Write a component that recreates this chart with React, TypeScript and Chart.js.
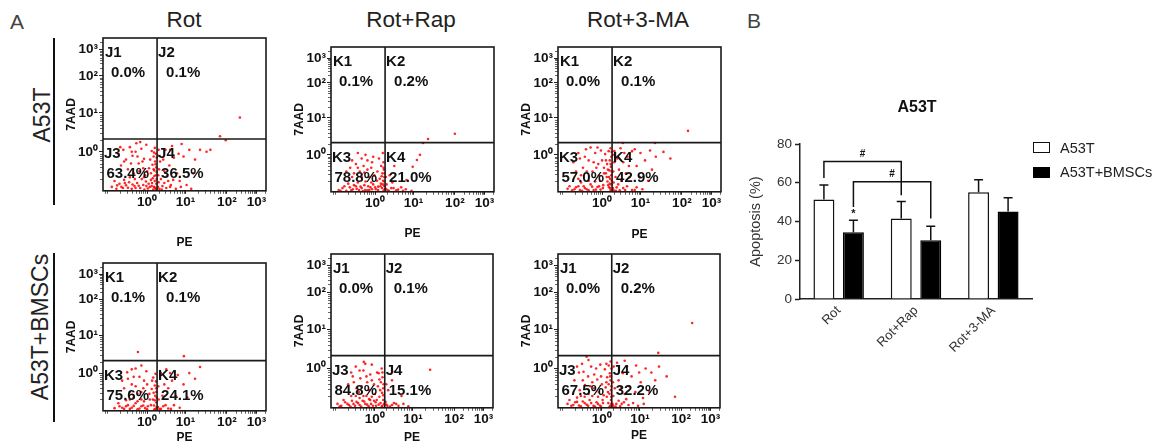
import React, { useEffect, useRef } from 'react';
import { Chart, registerables } from 'chart.js';

Chart.register(...registerables);

const FONT = '"Liberation Sans", Arial, Helvetica, sans-serif';

// ---------------- Panel A : flow cytometry ----------------
const COLUMN_TITLES = ['Rot', 'Rot+Rap', 'Rot+3-MA'];
const ROW_TITLES = ['A53T', 'A53T+BMSCs'];
const DECADE_LABELS = ['10⁰', '10¹', '10²', '10³'];
// display positions of decades (logicle-like axes)
const PE_DECADES = [0, 1, 2.08, 2.85];
const AAD_DECADES = [0, 1, 1.95, 2.62];
const PE_RANGE = [-1.15, 3.1];
const AAD_RANGE = [-1, 2.92];
const PE_GATE = 0.26;
const AAD_GATE = 0.33;

const ROT_A53T_GATES = ['J1', 'J2', 'J3', 'J4'];
const ROT_A53T_PCT = [0.0, 0.1, 63.4, 36.5];
const ROT_A53T_POINTS = [
  [0.22, -0.95], [0.18, -0.9], [0.24, -0.82], [0.12, -0.88], [0.2, -0.75], [0.15, -0.68], [0.23, -0.6], [0.1, -0.55],
  [0.19, -0.48], [0.24, -0.4], [0.14, -0.33], [0.21, -0.25], [0.08, -0.2], [0.17, -0.12], [0.23, -0.05], [0.12, 0.02],
  [0.2, 0.1], [0.05, -0.42], [0.1, -0.72],
  [-0.92, -0.9], [-0.8, -0.95], [-0.72, -0.82], [-0.63, -0.93], [-0.55, -0.86], [-0.47, -0.78], [-0.4, -0.95],
  [-0.33, -0.88], [-0.26, -0.8], [-0.18, -0.93], [-0.1, -0.85], [-0.03, -0.76], [0.02, -0.94], [-0.6, -0.72],
  [-0.14, -0.7], [-0.85, -0.75],
  [-0.75, -0.05], [-0.62, 0.05], [-0.55, -0.2], [-0.45, 0.12], [-0.38, -0.1], [-0.3, 0.0], [-0.22, -0.3], [-0.15, 0.08],
  [-0.08, -0.18], [-0.02, 0.18], [-0.5, -0.45], [-0.35, -0.55], [-0.2, -0.5], [-0.68, -0.35], [-0.1, -0.42],
  [-0.28, 0.22], [-0.42, -0.3], [-0.05, -0.6],
  [0.32, -0.95], [0.4, -0.88], [0.5, -0.93], [0.62, -0.85], [0.75, -0.95], [0.88, -0.9], [1.03, -0.85], [0.36, -0.7],
  [0.45, -0.5], [0.58, -0.35], [0.7, -0.15], [0.82, -0.05], [0.95, -0.12], [1.1, 0.05], [1.25, -0.2], [1.38, 0.05],
  [1.55, 0.0], [1.65, 0.05], [0.34, -0.25], [0.48, 0.05], [0.65, 0.15], [0.9, 0.2], [1.2, -0.55], [0.55, -0.75],
  [1.9, 0.4], [2.05, 0.3], [2.42, 0.88],
  [0.25, -0.98], [0.21, -0.92], [0.16, -0.97], [0.13, -0.8], [0.25, -0.7], [0.19, -0.62], [0.25, -0.52], [0.17, -0.45],
  [0.22, -0.32], [0.25, -0.15], [0.18, -0.02], [0.07, -0.9], [0.04, -0.82], [-0.02, -0.88], [-0.07, -0.97],
  [-0.22, -0.87], [-0.3, -0.93], [-0.38, -0.84], [-0.5, -0.92], [-0.58, -0.8], [-0.67, -0.9], [-0.78, -0.86],
  [-0.45, -0.65], [-0.32, -0.7], [-0.08, -0.65], [0.0, -0.5], [-0.12, -0.25], [-0.25, -0.12], [-0.4, 0.0],
  [-0.6, -0.25], [-0.7, 0.12], [-0.18, 0.25], [0.28, -0.9], [0.3, -0.78], [0.29, -0.6], [0.31, -0.45], [0.29, -0.1],
  [0.38, -0.97], [0.45, -0.8], [0.52, -0.62], [0.6, -0.9], [0.68, -0.72], [0.78, -0.55], [0.42, -0.2], [0.85, -0.75],
  [1.15, -0.95], [0.3, 0.05], [0.6, 0.05],
];

const ROT_RAP_A53T_GATES = ['K1', 'K2', 'K3', 'K4'];
const ROT_RAP_A53T_PCT = [0.1, 0.2, 78.8, 21.0];
const ROT_RAP_A53T_POINTS = [
  [0.22, -0.97], [0.18, -0.9], [0.24, -0.84], [0.15, -0.78], [0.21, -0.7], [0.24, -0.6], [0.12, -0.65], [0.19, -0.5],
  [0.23, -0.4], [0.16, -0.3], [0.22, -0.2], [0.1, -0.1], [0.2, 0.05], [0.06, -0.45],
  [-0.95, -0.95], [-0.85, -0.9], [-0.75, -0.97], [-0.66, -0.88], [-0.58, -0.93], [-0.5, -0.85], [-0.42, -0.95],
  [-0.35, -0.9], [-0.28, -0.82], [-0.2, -0.96], [-0.12, -0.88], [-0.05, -0.8], [0.02, -0.93], [0.08, -0.86],
  [-0.45, -0.75], [-0.25, -0.72], [-0.7, -0.78], [-0.15, -0.95], [-0.32, -0.98],
  [-0.65, -0.35], [-0.5, -0.25], [-0.4, -0.45], [-0.3, -0.3], [-0.2, -0.15], [-0.1, -0.35], [-0.02, -0.55],
  [-0.55, -0.5], [-0.35, -0.1], [-0.15, -0.6], [-0.45, 0.05], [-0.25, 0.0], [-0.05, -0.05], [-0.6, -0.15],
  [0.32, -0.95], [0.42, -0.9], [0.55, -0.96], [0.68, -0.88], [0.8, -0.93], [0.95, -0.97], [0.82, -0.68],
  [0.98, -0.32], [1.09, -0.14], [1.17, 0.0], [1.25, 0.32], [1.38, 0.43], [2.08, 0.57], [0.38, -0.55], [0.5, -0.3],
  [0.25, -0.93], [0.2, -0.8], [0.24, -0.72], [0.17, -0.58], [0.25, -0.5], [0.22, -0.35], [0.14, -0.85], [0.08, -0.95],
  [0.0, -0.88], [-0.08, -0.93], [-0.18, -0.85], [-0.26, -0.95], [-0.38, -0.86], [-0.48, -0.92], [-0.55, -0.82],
  [-0.62, -0.96], [-0.8, -0.85], [-0.9, -0.97], [-0.1, -0.75], [0.05, -0.7], [-0.35, -0.6], [-0.6, -0.6],
  [-0.75, -0.45], [-0.45, -0.35], [-0.28, -0.48], [-0.08, -0.2], [-0.2, -0.4], [0.28, -0.92], [0.3, -0.8],
  [0.36, -0.97], [0.48, -0.9], [0.6, -0.94], [0.28, -0.6], [0.73, -0.97], [0.45, -0.75],
];

const ROT_3MA_A53T_GATES = ['K1', 'K2', 'K3', 'K4'];
const ROT_3MA_A53T_PCT = [0.0, 0.1, 57.0, 42.9];
const ROT_3MA_A53T_POINTS = [
  [0.22, -0.95], [0.18, -0.88], [0.24, -0.8], [0.14, -0.72], [0.21, -0.65], [0.24, -0.55], [0.1, -0.5], [0.19, -0.42],
  [0.23, -0.32], [0.13, -0.25], [0.2, -0.15], [0.24, -0.05], [0.08, 0.02], [0.17, 0.1], [0.22, 0.18], [0.05, -0.35],
  [0.12, -0.6], [0.2, -0.78],
  [-0.9, -0.92], [-0.78, -0.96], [-0.68, -0.88], [-0.58, -0.95], [-0.48, -0.85], [-0.4, -0.93], [-0.3, -0.8],
  [-0.22, -0.95], [-0.12, -0.87], [-0.04, -0.94], [0.03, -0.82], [-0.55, -0.75], [-0.18, -0.72],
  [-0.75, -0.2], [-0.62, 0.05], [-0.5, -0.35], [-0.42, 0.15], [-0.35, -0.15], [-0.25, -0.45], [-0.18, 0.05],
  [-0.1, -0.25], [-0.03, 0.12], [-0.55, -0.55], [-0.3, 0.2], [-0.08, -0.55], [-0.45, -0.05], [-0.15, -0.35],
  [0.0, -0.15], [-0.68, -0.45],
  [0.3, -0.95], [0.38, -0.88], [0.46, -0.96], [0.55, -0.9], [0.65, -0.85], [0.78, -0.95], [0.9, -0.88], [1.05, -0.93],
  [0.35, -0.6], [0.44, -0.4], [0.55, -0.2], [0.66, -0.05], [0.78, 0.1], [0.9, -0.3], [1.0, 0.05], [1.12, -0.15],
  [1.25, 0.12], [1.4, -0.05], [1.6, 0.08], [1.78, -0.1], [0.32, 0.1], [0.48, 0.18], [0.72, -0.6], [1.2, -0.7],
  [0.54, 0.32], [1.38, 0.32], [2.24, 0.65],
  [0.25, -0.98], [0.21, -0.9], [0.16, -0.82], [0.25, -0.7], [0.18, -0.6], [0.25, -0.45], [0.15, -0.4], [0.22, -0.25],
  [0.25, 0.08], [0.1, -0.15], [0.02, -0.9], [-0.08, -0.85], [-0.16, -0.94], [-0.26, -0.86], [-0.35, -0.96],
  [-0.45, -0.9], [-0.52, -0.97], [-0.62, -0.85], [-0.72, -0.93], [-0.85, -0.85], [-0.05, -0.7], [-0.35, -0.7],
  [-0.62, -0.65], [-0.4, -0.45], [-0.22, -0.2], [-0.12, 0.2], [-0.58, -0.1], [0.05, -0.5], [0.28, -0.9], [0.3, -0.75],
  [0.29, -0.45], [0.32, -0.2], [0.28, 0.0], [0.36, -0.97], [0.42, -0.8], [0.5, -0.7], [0.6, -0.95], [0.62, -0.5],
  [0.7, -0.3], [0.85, -0.95], [0.98, -0.6], [0.4, -0.1], [0.85, 0.15], [1.3, -0.4], [0.58, 0.05],
];

const ROT_BMSC_GATES = ['K1', 'K2', 'K3', 'K4'];
const ROT_BMSC_PCT = [0.1, 0.1, 75.6, 24.1];
const ROT_BMSC_POINTS = [
  [0.22, -0.95], [0.18, -0.86], [0.24, -0.78], [0.15, -0.7], [0.21, -0.6], [0.24, -0.5], [0.12, -0.42], [0.2, -0.33],
  [0.23, -0.22], [0.16, -0.12], [0.22, -0.02], [0.1, -0.85], [0.06, -0.55],
  [-0.85, -0.93], [-0.72, -0.88], [-0.6, -0.95], [-0.5, -0.85], [-0.4, -0.92], [-0.3, -0.8], [-0.2, -0.94],
  [-0.1, -0.86], [0.0, -0.96], [-0.55, -0.72], [-0.15, -0.7], [-0.35, -0.65],
  [-0.65, -0.2], [-0.52, 0.02], [-0.4, -0.3], [-0.3, 0.12], [-0.2, -0.1], [-0.1, -0.4], [-0.02, 0.05], [-0.45, -0.5],
  [-0.25, -0.55], [-0.08, -0.2], [-0.6, -0.4], [-0.35, -0.1], [-0.15, 0.2], [-0.24, 0.56],
  [0.32, -0.95], [0.42, -0.88], [0.55, -0.94], [0.7, -0.85], [0.85, -0.92], [0.4, -0.6], [0.55, -0.4], [0.65, -0.2],
  [0.8, -0.05], [0.95, -0.3], [1.1, 0.0], [1.25, -0.15], [1.38, 0.16], [0.36, 0.0], [0.5, 0.1], [1.05, -0.65],
  [0.96, 0.45],
  [0.25, -0.9], [0.19, -0.96], [0.25, -0.65], [0.17, -0.52], [0.24, -0.4], [0.13, -0.2], [0.2, -0.72], [0.07, -0.7],
  [0.02, -0.88], [-0.05, -0.93], [-0.15, -0.88], [-0.25, -0.96], [-0.35, -0.87], [-0.45, -0.95], [-0.55, -0.88],
  [-0.65, -0.92], [-0.75, -0.8], [-0.08, -0.75], [-0.25, -0.75], [-0.45, -0.7], [-0.5, -0.15], [-0.3, -0.35],
  [-0.15, -0.5], [0.0, -0.3], [-0.4, 0.1], [0.28, -0.9], [0.3, -0.7], [0.29, -0.35], [0.36, -0.95], [0.48, -0.85],
  [0.62, -0.95], [0.45, -0.3], [0.75, -0.6], [0.6, 0.0],
];

const ROT_RAP_BMSC_GATES = ['J1', 'J2', 'J3', 'J4'];
const ROT_RAP_BMSC_PCT = [0.0, 0.1, 84.8, 15.1];
const ROT_RAP_BMSC_POINTS = [
  [0.2, -0.95], [0.15, -0.88], [0.22, -0.8], [0.12, -0.72], [0.19, -0.62], [0.22, -0.5], [0.08, -0.45], [0.16, -0.35],
  [0.2, -0.22], [0.1, -0.12], [0.18, 0.0], [0.05, -0.8],
  [-0.98, -0.9], [-0.88, -0.95], [-0.78, -0.86], [-0.68, -0.93], [-0.6, -0.82], [-0.52, -0.95], [-0.44, -0.88],
  [-0.36, -0.97], [-0.28, -0.84], [-0.2, -0.92], [-0.12, -0.8], [-0.05, -0.95], [0.02, -0.86], [-0.4, -0.75],
  [-0.22, -0.7], [-0.62, -0.7], [-0.08, -0.72],
  [-0.7, -0.4], [-0.58, -0.2], [-0.48, -0.5], [-0.38, -0.25], [-0.3, -0.05], [-0.2, -0.35], [-0.12, -0.15],
  [-0.02, -0.4], [-0.5, 0.05], [-0.25, 0.12], [-0.08, 0.1], [-0.42, -0.6], [-0.29, 0.17], [-0.15, -0.55], [-0.62, -0.1],
  [0.3, -0.92], [0.4, -0.97], [0.5, -0.88], [0.62, -0.95], [0.75, -0.9], [0.88, -0.96], [0.35, -0.55], [0.52, -0.08],
  [0.45, -0.3], [0.7, -0.7], [1.45, -0.03],
  [0.24, -0.9], [0.18, -0.97], [0.22, -0.68], [0.14, -0.55], [0.23, -0.4], [0.12, -0.28], [0.2, -0.1], [0.1, -0.92],
  [0.03, -0.95], [-0.02, -0.82], [-0.1, -0.9], [-0.16, -0.96], [-0.25, -0.9], [-0.32, -0.82], [-0.4, -0.93],
  [-0.48, -0.85], [-0.56, -0.9], [-0.64, -0.97], [-0.72, -0.9], [-0.82, -0.8], [-0.92, -0.96], [-0.3, -0.7],
  [-0.5, -0.7], [-0.15, -0.78], [0.0, -0.65], [-0.35, -0.45], [-0.55, -0.35], [-0.22, -0.2], [-0.08, -0.3],
  [-0.4, -0.05], [0.06, -0.1], [0.28, -0.85], [0.33, -0.95], [0.45, -0.93], [0.56, -0.9], [0.3, -0.4],
];

const ROT_3MA_BMSC_GATES = ['J1', 'J2', 'J3', 'J4'];
const ROT_3MA_BMSC_PCT = [0.0, 0.2, 67.5, 32.2];
const ROT_3MA_BMSC_POINTS = [
  [0.22, -0.95], [0.17, -0.88], [0.24, -0.8], [0.13, -0.72], [0.2, -0.64], [0.24, -0.55], [0.1, -0.48], [0.18, -0.4],
  [0.23, -0.3], [0.14, -0.22], [0.21, -0.12], [0.08, -0.02], [0.18, 0.08], [0.23, 0.18], [0.05, -0.68],
  [-0.9, -0.9], [-0.8, -0.95], [-0.7, -0.86], [-0.6, -0.94], [-0.5, -0.84], [-0.4, -0.92], [-0.32, -0.8],
  [-0.22, -0.95], [-0.14, -0.86], [-0.05, -0.94], [0.02, -0.8], [-0.45, -0.72], [-0.25, -0.7], [-0.65, -0.74],
  [-0.72, -0.3], [-0.6, -0.1], [-0.52, 0.12], [-0.44, -0.42], [-0.36, -0.2], [-0.28, 0.05], [-0.2, -0.5],
  [-0.12, -0.28], [-0.04, 0.1], [-0.58, -0.55], [-0.35, 0.22], [-0.15, 0.0], [-0.08, -0.6], [-0.48, -0.08],
  [-0.25, -0.35], [0.0, -0.4], [-0.4, 0.3],
  [0.3, -0.95], [0.38, -0.9], [0.48, -0.96], [0.58, -0.86], [0.7, -0.93], [0.82, -0.88], [0.95, -0.95], [1.1, -0.9],
  [0.34, -0.5], [0.44, -0.3], [0.55, -0.12], [0.66, 0.05], [0.78, -0.2], [0.9, 0.08], [1.02, -0.35], [1.15, 0.0],
  [1.3, -0.1], [1.5, 0.05], [1.7, -0.2], [0.4, 0.15], [0.6, -0.65], [1.25, -0.6], [1.48, 0.4], [1.92, -0.72],
  [2.37, 1.16],
  [0.25, -0.9], [0.2, -0.98], [0.25, -0.72], [0.16, -0.6], [0.25, -0.45], [0.12, -0.35], [0.22, -0.2], [0.25, 0.0],
  [0.12, 0.12], [0.03, -0.88], [-0.02, -0.97], [-0.1, -0.9], [-0.18, -0.97], [-0.28, -0.88], [-0.36, -0.95],
  [-0.45, -0.88], [-0.55, -0.96], [-0.65, -0.85], [-0.75, -0.93], [-0.85, -0.8], [-0.1, -0.72], [-0.35, -0.65],
  [-0.55, -0.7], [-0.3, -0.45], [-0.5, -0.3], [-0.2, -0.15], [-0.65, 0.05], [-0.02, -0.2], [0.28, -0.9], [0.3, -0.7],
  [0.29, -0.35], [0.31, 0.05], [0.36, -0.97], [0.44, -0.82], [0.52, -0.9], [0.64, -0.78], [0.5, -0.5], [0.72, -0.45],
  [0.88, -0.6], [0.98, -0.1], [0.6, 0.2], [1.08, -0.75], [1.4, -0.3],
];

// ---------------- Panel B : bar chart ----------------
const BAR_TITLE = 'A53T';
const BAR_CATEGORIES = ['Rot', 'Rot+Rap', 'Rot+3-MA'];
const SERIES_NAMES = ['A53T', 'A53T+BMSCs'];
const A53T_MEAN = [51.4, 41.5, 55.1];
const A53T_SEM = [7.5, 8.8, 6.4];
const BMSC_MEAN = [34.5, 30.3, 45.1];
const BMSC_SEM = [6.2, 7.3, 7.1];
const Y_TICKS = [0, 20, 40, 60, 80];
const Y_TITLE = 'Apoptosis (%)';
// significance brackets: [series, category] ends, bar level, leg end levels
const BRACKET_A = [[0, 0], [0, 1]];
const BRACKET_A_LEVELS = [71, 62.5, 53.5];
const BRACKET_B = [[1, 0], [1, 1]];
const BRACKET_B_LEVELS = [60.5, 47.5, 41.6];
const BRACKET_MARK = '#';
const STAR_AT = [1, 0];
const STAR_LEVEL = 44.8;

function minorPositions(majors: number[]) {
  const out: number[] = [];
  for (let i = 0; i < majors.length - 1; i++) {
    const a = majors[i];
    const b = majors[i + 1];
    for (let k = 2; k <= 9; k++) out.push(a + (b - a) * Math.log10(k));
  }
  return out;
}

type FlowProps = {
  left: number; top: number; w: number; h: number; titleY: number;
  gates: string[]; pct: number[]; points: number[][];
};

function FlowPanel(p: FlowProps) {
  const ref = useRef<HTMLCanvasElement>(null);
  const padTop = 10;
  const padL = 6;
  const yW = 39;
  const padR = 10;
  const xH = p.titleY - (p.top + p.h) + 7.2;
  const cw = padL + yW + p.w + padR;
  const ch = padTop + p.h + xH;

  useEffect(() => {
    if (!ref.current) return;
    const quadPlugin = {
      id: 'quadrants',
      afterDatasetsDraw(chart: any) {
        const { ctx, chartArea: a, scales } = chart;
        const xs = scales.x;
        const ys = scales.y;
        const gx = xs.getPixelForValue(PE_GATE);
        const gy = ys.getPixelForValue(AAD_GATE);
        ctx.save();
        ctx.strokeStyle = '#666';
        ctx.lineWidth = 1;
        ctx.beginPath();
        const xm = minorPositions([-2.1, -1, ...PE_DECADES, 3.6]).filter((v) => v > PE_RANGE[0] && v < PE_RANGE[1]);
        xm.forEach((v) => {
          const px = Math.round(xs.getPixelForValue(v)) + 0.5;
          ctx.moveTo(px, a.bottom);
          ctx.lineTo(px, a.bottom + 3);
        });
        const ym = minorPositions([-1, ...AAD_DECADES, 3.29]).filter((v) => v > AAD_RANGE[0] && v < AAD_RANGE[1]);
        ym.forEach((v) => {
          const py = Math.round(ys.getPixelForValue(v)) + 0.5;
          ctx.moveTo(a.left - 3, py);
          ctx.lineTo(a.left, py);
        });
        ctx.stroke();
        ctx.strokeStyle = '#1a1a1a';
        ctx.lineWidth = 1.6;
        ctx.strokeRect(a.left, a.top, a.right - a.left, a.bottom - a.top);
        ctx.beginPath();
        ctx.moveTo(gx, a.top);
        ctx.lineTo(gx, a.bottom);
        ctx.moveTo(a.left, gy);
        ctx.lineTo(a.right, gy);
        ctx.stroke();
        ctx.fillStyle = '#111';
        ctx.font = `bold 15px ${FONT}`;
        ctx.textBaseline = 'middle';
        ctx.textAlign = 'left';
        const t = p.pct.map((v) => v.toFixed(1) + '%');
        ctx.fillText(p.gates[0], a.left + 2, a.top + 15);
        ctx.fillText(t[0], a.left + 8, a.top + 35);
        ctx.fillText(p.gates[1], gx + 1, a.top + 15);
        ctx.fillText(t[1], gx + 9, a.top + 35);
        ctx.fillText(p.gates[2], a.left + 1, gy + 15);
        ctx.fillText(t[2], a.left + 3.5, gy + 35);
        ctx.fillText(p.gates[3], gx + 1, gy + 15);
        ctx.fillText(t[3], gx + 4, gy + 35);
        ctx.restore();
      },
    };

    const tickFont = { family: FONT, size: 13.5, weight: 'bold' as const };
    const chart = new Chart(ref.current, {
      type: 'scatter',
      data: {
        datasets: [
          {
            data: p.points.map(([u, v]) => ({ x: u, y: v })),
            pointRadius: 1.3,
            pointHoverRadius: 1.3,
            backgroundColor: 'rgba(255,0,0,0.85)',
            borderWidth: 0,
          },
        ],
      },
      options: {
        animation: false,
        responsive: false,
        maintainAspectRatio: false,
        events: [],
        layout: { padding: { left: padL, top: padTop, right: padR, bottom: 0 } },
        plugins: { legend: { display: false }, tooltip: { enabled: false } },
        scales: {
          x: {
            type: 'linear',
            min: PE_RANGE[0],
            max: PE_RANGE[1],
            afterBuildTicks: (s: any) => {
              s.ticks = PE_DECADES.map((v) => ({ value: v }));
            },
            afterFit: (s: any) => {
              s.height = xH;
            },
            ticks: {
              autoSkip: false,
              maxRotation: 0,
              padding: 0,
              color: '#111',
              font: tickFont,
              callback: (_v: any, i: number) => DECADE_LABELS[i],
            },
            grid: { display: true, drawOnChartArea: false, drawTicks: true, tickLength: 3, color: '#222' },
            border: { display: false },
            title: { display: true, text: 'PE', color: '#111', padding: 0, font: { family: FONT, size: 12, weight: 'bold' } },
          },
          y: {
            type: 'linear',
            min: AAD_RANGE[0],
            max: AAD_RANGE[1],
            afterBuildTicks: (s: any) => {
              s.ticks = AAD_DECADES.map((v) => ({ value: v }));
            },
            afterFit: (s: any) => {
              s.width = yW;
            },
            ticks: {
              autoSkip: false,
              padding: 1,
              color: '#111',
              font: tickFont,
              callback: (_v: any, i: number) => DECADE_LABELS[i],
            },
            grid: { display: true, drawOnChartArea: false, drawTicks: true, tickLength: 4, color: '#222' },
            border: { display: false },
            title: { display: true, text: '7AAD', color: '#111', padding: 0, font: { family: FONT, size: 12, weight: 'bold' } },
          },
        },
      },
      plugins: [quadPlugin],
    } as any);
    return () => chart.destroy();
  }, []);

  return (
    <canvas
      ref={ref}
      width={cw}
      height={ch}
      style={{ position: 'absolute', left: p.left - padL - yW, top: p.top - padTop, width: cw, height: ch }}
    />
  );
}

function BarPanel() {
  const ref = useRef<HTMLCanvasElement>(null);
  const cl = 740;
  const ct = 100;
  const cw = 300;
  const chh = 260;
  useEffect(() => {
    if (!ref.current) return;
    const means = [A53T_MEAN, BMSC_MEAN];
    const sems = [A53T_SEM, BMSC_SEM];
    const extras = {
      id: 'extras',
      afterDatasetsDraw(chart: any) {
        const { ctx } = chart;
        const ys = chart.scales.y;
        const barX = (s: number, c: number) => chart.getDatasetMeta(s).data[c].x;
        ctx.save();
        ctx.strokeStyle = '#111';
        ctx.lineWidth = 1.5;
        for (let s = 0; s < 2; s++) {
          chart.getDatasetMeta(s).data.forEach((el: any, c: number) => {
            const top = ys.getPixelForValue(means[s][c] + sems[s][c]);
            ctx.beginPath();
            ctx.moveTo(el.x, el.y);
            ctx.lineTo(el.x, top);
            ctx.moveTo(el.x - 4.5, top);
            ctx.lineTo(el.x + 4.5, top);
            ctx.stroke();
          });
        }
        const drawBracket = (ends: number[][], lv: number[]) => {
          const x1 = barX(ends[0][0], ends[0][1]);
          const x2 = barX(ends[1][0], ends[1][1]);
          const yl = ys.getPixelForValue(lv[0]);
          ctx.beginPath();
          ctx.moveTo(x1, ys.getPixelForValue(lv[1]));
          ctx.lineTo(x1, yl);
          ctx.lineTo(x2, yl);
          ctx.lineTo(x2, ys.getPixelForValue(lv[2]));
          ctx.stroke();
          ctx.fillStyle = '#111';
          ctx.font = `bold 10px ${FONT}`;
          ctx.textAlign = 'center';
          ctx.textBaseline = 'middle';
          ctx.fillText(BRACKET_MARK, (x1 + x2) / 2, yl - 7.5);
        };
        drawBracket(BRACKET_A, BRACKET_A_LEVELS);
        drawBracket(BRACKET_B, BRACKET_B_LEVELS);
        ctx.font = `bold 11px ${FONT}`;
        ctx.fillText('*', barX(STAR_AT[0], STAR_AT[1]), ys.getPixelForValue(STAR_LEVEL) + 2);
        ctx.restore();
      },
    };
    const chart = new Chart(ref.current, {
      type: 'bar',
      data: {
        labels: BAR_CATEGORIES,
        datasets: [
          {
            label: SERIES_NAMES[0],
            data: A53T_MEAN,
            backgroundColor: '#ffffff',
            borderColor: '#111',
            borderWidth: 1.5,
            categoryPercentage: 0.763,
            barPercentage: 0.71,
          },
          {
            label: SERIES_NAMES[1],
            data: BMSC_MEAN,
            backgroundColor: '#000000',
            borderColor: '#000',
            borderWidth: 1.5,
            categoryPercentage: 0.763,
            barPercentage: 0.71,
          },
        ],
      },
      options: {
        animation: false,
        responsive: false,
        maintainAspectRatio: false,
        events: [],
        layout: { padding: { left: 0, top: 44, right: 8, bottom: 0 } },
        plugins: { legend: { display: false }, tooltip: { enabled: false } },
        scales: {
          x: {
            afterFit: (s: any) => {
              s.height = 61;
            },
            ticks: {
              autoSkip: false,
              minRotation: 45,
              maxRotation: 45,
              padding: 4,
              color: '#333',
              font: { family: FONT, size: 13 },
            },
            grid: { display: false, drawTicks: false },
            border: { display: true, color: '#222', width: 1.5 },
          },
          y: {
            min: 0,
            max: 80,
            afterBuildTicks: (s: any) => {
              s.ticks = Y_TICKS.map((v) => ({ value: v }));
            },
            afterFit: (s: any) => {
              s.width = 60;
            },
            ticks: { padding: 3, color: '#333', font: { family: FONT, size: 13.5 } },
            grid: { display: true, drawOnChartArea: false, drawTicks: true, tickLength: 5, color: '#222', tickWidth: 1.5 },
            border: { display: true, color: '#222', width: 1.5 },
            title: {
              display: true,
              text: Y_TITLE,
              color: '#333',
              padding: { top: 7, bottom: 0 },
              font: { family: FONT, size: 14.5 },
            },
          },
        },
      },
      plugins: [extras],
    } as any);
    return () => chart.destroy();
  }, []);
  return (
    <canvas
      ref={ref}
      width={cw}
      height={chh}
      style={{ position: 'absolute', left: cl, top: ct, width: cw, height: chh }}
    />
  );
}

function Txt(props: { x: number; y: number; text: string; size: number; bold?: boolean; color?: string; rotate?: number }) {
  return (
    <div
      style={{
        position: 'absolute',
        left: props.x,
        top: props.y,
        transform: `translate(-50%, -50%) rotate(${props.rotate || 0}deg)`,
        fontFamily: FONT,
        fontSize: props.size,
        fontWeight: props.bold ? 'bold' : 'normal',
        color: props.color || '#222',
        whiteSpace: 'nowrap',
        lineHeight: 1,
      }}
    >
      {props.text}
    </div>
  );
}

export default function App() {
  const flows: FlowProps[] = [
    { left: 103, top: 38, w: 163, h: 153, titleY: 243, gates: ROT_A53T_GATES, pct: ROT_A53T_PCT, points: ROT_A53T_POINTS },
    { left: 331, top: 47, w: 163, h: 145, titleY: 234, gates: ROT_RAP_A53T_GATES, pct: ROT_RAP_A53T_PCT, points: ROT_RAP_A53T_POINTS },
    { left: 558, top: 47, w: 163, h: 145, titleY: 235, gates: ROT_3MA_A53T_GATES, pct: ROT_3MA_A53T_PCT, points: ROT_3MA_A53T_POINTS },
    { left: 103, top: 263, w: 163, h: 148, titleY: 438, gates: ROT_BMSC_GATES, pct: ROT_BMSC_PCT, points: ROT_BMSC_POINTS },
    { left: 331, top: 254, w: 162, h: 154, titleY: 438, gates: ROT_RAP_BMSC_GATES, pct: ROT_RAP_BMSC_PCT, points: ROT_RAP_BMSC_POINTS },
    { left: 558, top: 254, w: 162, h: 154, titleY: 436, gates: ROT_3MA_BMSC_GATES, pct: ROT_3MA_BMSC_PCT, points: ROT_3MA_BMSC_POINTS },
  ];
  return (
    <div style={{ position: 'absolute', left: 0, top: 0, width: 1156, height: 447, background: '#fff', overflow: 'hidden' }}>
      <Txt x={17} y={21} text="A" size={21} color="#444" />
      <Txt x={754} y={20} text="B" size={21} color="#444" />
      <Txt x={184} y={20} text={COLUMN_TITLES[0]} size={22.5} />
      <Txt x={411} y={20} text={COLUMN_TITLES[1]} size={22.5} />
      <Txt x={638} y={20} text={COLUMN_TITLES[2]} size={22.5} />
      <Txt x={42} y={115} text={ROW_TITLES[0]} size={23} rotate={-90} />
      <Txt x={40} y={327} text={ROW_TITLES[1]} size={23} rotate={-90} />
      <div style={{ position: 'absolute', left: 53, top: 38, width: 2, height: 167, background: '#111' }} />
      <div style={{ position: 'absolute', left: 53, top: 253, width: 2, height: 169, background: '#111' }} />
      {flows.map((f, i) => (
        <FlowPanel key={i} {...f} />
      ))}
      <BarPanel />
      <Txt x={917} y={107} text={BAR_TITLE} size={16} bold color="#111" />
      <div style={{ position: 'absolute', left: 1033, top: 142, width: 15, height: 9, border: '1.5px solid #111', background: '#fff' }} />
      <div style={{ position: 'absolute', left: 1033, top: 167, width: 15, height: 9, border: '1.5px solid #000', background: '#000' }} />
      <div style={{ position: 'absolute', left: 1060, top: 147.5, transform: 'translateY(-50%)', fontFamily: FONT, fontSize: 14.5, color: '#222', lineHeight: 1, whiteSpace: 'nowrap' }}>
        {SERIES_NAMES[0]}
      </div>
      <div style={{ position: 'absolute', left: 1060, top: 172, transform: 'translateY(-50%)', fontFamily: FONT, fontSize: 14.5, color: '#222', lineHeight: 1, whiteSpace: 'nowrap' }}>
        {SERIES_NAMES[1]}
      </div>
    </div>
  );
}
